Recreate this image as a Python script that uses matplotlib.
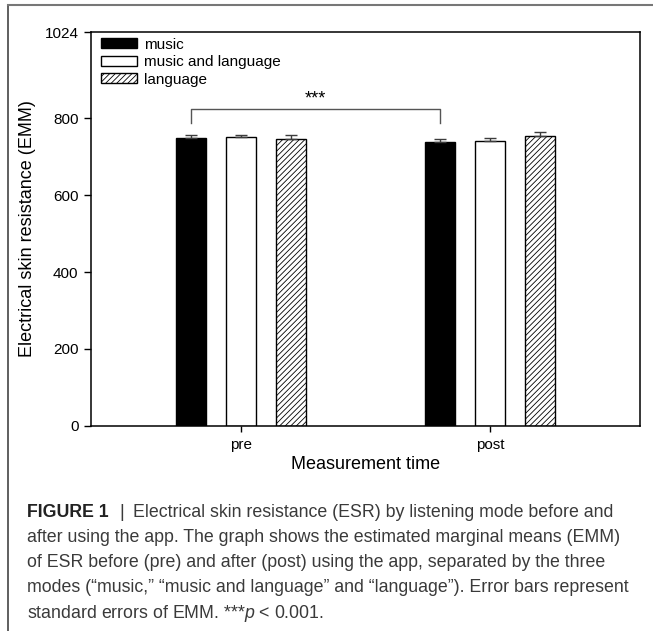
import numpy as np
from matplotlib import pyplot as plt
from matplotlib.lines import Line2D

# Data
groups = ['pre', 'post']
modes = ['music', 'music and language', 'language']
esr_music = [750, 739]
esr_music_lang = [751, 740]
esr_language = [747, 755]
se_music = [6, 8]
se_music_lang = [6, 10]
se_language = [10, 9]
y_ticks = [0, 200, 400, 600, 800, 1024]

plt.rcParams['font.family'] = ['Liberation Sans', 'DejaVu Sans']
plt.rcParams['mathtext.fontset'] = 'custom'
plt.rcParams['mathtext.rm'] = 'Liberation Sans'
plt.rcParams['mathtext.it'] = 'Liberation Sans:italic'
plt.rcParams['hatch.linewidth'] = 0.6

W, H = 653, 631
fig = plt.figure(figsize=(W / 100, H / 100), dpi=100)


def px(x, y):
    # pixel coords (top-left origin) -> figure fraction
    return x / W, 1 - y / H


left, top = px(91, 32.3)
right, bottom = px(640, 425.7)
ax = fig.add_axes([left, bottom, right - left, top - bottom])

x = np.arange(len(groups))
width = 0.12
offset = 0.2
err_kw = dict(ecolor='#3c3c3c', elinewidth=1, capsize=4.5, capthick=1)

series = [
    (esr_music, se_music, dict(color='black', edgecolor='black')),
    (esr_music_lang, se_music_lang, dict(color='white', edgecolor='black')),
    (esr_language, se_language, dict(color='white', edgecolor='black', hatch='//////')),
]
for i, (vals, se, style) in enumerate(series):
    ax.bar(x + (i - 1) * offset, vals, width, label=modes[i], linewidth=1,
           yerr=[np.zeros(len(se)), se], error_kw=err_kw, **style)

# Significance bracket between the "music" bars
x_a, x_b = x[0] - offset, x[1] - offset
ax.plot([x_a, x_a, x_b, x_b], [788, 824, 824, 788], color='#555555', linewidth=1)
ax.text((x_a + x_b) / 2, 850, '***', ha='center', va='center', fontsize=13)

ax.set_xlim(-0.602, 1.602)
ax.set_ylim(0, 1024)
ax.set_yticks(y_ticks)
ax.set_xticks(x)
ax.set_xticklabels(groups, fontsize=11)
ax.tick_params(axis='y', direction='out', length=5, width=1, labelsize=11, pad=4)
ax.tick_params(axis='x', direction='out', length=4, width=1, pad=5)
for sp in ax.spines.values():
    sp.set_linewidth(1.1)

ax.set_ylabel('Electrical skin resistance (EMM)', fontsize=13, labelpad=6)
ax.set_xlabel('Measurement time', fontsize=13, labelpad=3)

ax.legend(loc='upper left', bbox_to_anchor=(0.018, 0.986), frameon=False,
          fontsize=11, handlelength=2.35, handleheight=0.62, handletextpad=0.5,
          labelspacing=0.22, borderpad=0, borderaxespad=0)

# Outer frame (top and left lines)
fx0, fy0 = px(8, 5)
fig.add_artist(Line2D([fx0, fx0], [0, fy0], transform=fig.transFigure, color='#444444', linewidth=1.2))
fig.add_artist(Line2D([fx0, 1], [fy0, fy0], transform=fig.transFigure, color='#777777', linewidth=1.5))

# Caption
cap_color = '#3a3a3a'
cap_size = 12.8
line_y = [512.7, 538, 562.7, 587, 613]
fig.text(*px(27, line_y[0]), 'FIGURE 1', fontsize=cap_size, fontweight='bold', color='#222222', va='center')
fig.text(*px(119, line_y[0]), '|', fontsize=cap_size, color=cap_color, va='center')
fig.text(*px(133, line_y[0]), 'Electrical skin resistance (ESR) by listening mode before and',
         fontsize=cap_size, color=cap_color, va='center')
caption_lines = [
    'after using the app. The graph shows the estimated marginal means (EMM)',
    'of ESR before (pre) and after (post) using the app, separated by the three',
    'modes (\u201cmusic,\u201d \u201cmusic and language\u201d and \u201clanguage\u201d). Error bars represent',
    'standard errors of EMM. ***$p$ < 0.001.',
]
for ly, txt in zip(line_y[1:], caption_lines):
    fig.text(*px(27, ly), txt, fontsize=cap_size, color=cap_color, va='center')

fig.savefig('out.png', dpi=100)
